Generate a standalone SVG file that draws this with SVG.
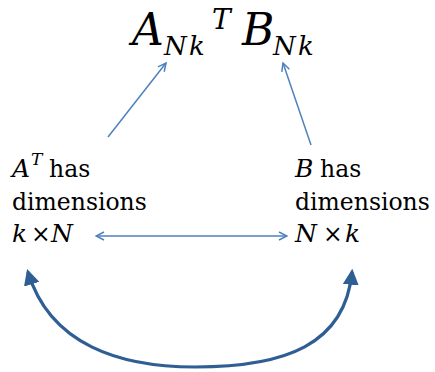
<svg xmlns="http://www.w3.org/2000/svg" width="435" height="372" viewBox="0 0 435 372">
<style>
.m{font-family:'DejaVu Serif','Liberation Serif',serif;font-style:italic;fill:#000}
.t{font-family:'DejaVu Serif','Liberation Serif',serif;font-size:23.5px;fill:#000}
.thin{fill:none;stroke:#4f81bd;stroke-width:1.5}
.thick{fill:none;stroke:#2f5e94;stroke-width:3.2}
</style>
<defs>
<marker id="open" viewBox="0 0 10 10" refX="9" refY="5" markerWidth="10" markerHeight="10" markerUnits="userSpaceOnUse" orient="auto-start-reverse">
<path d="M1,1 L9,5 L1,9" fill="none" stroke="#4f81bd" stroke-width="1.5"/>
</marker>
<marker id="solid" viewBox="0 0 10 10" refX="8" refY="5" markerWidth="5" markerHeight="5" orient="auto">
<path d="M0,0 L10,5 L0,10 Z" fill="#2f5e94"/>
</marker>
</defs>
<g id="title">
<text class="m" x="132" y="45" font-size="44">A</text>
<text class="m" x="164" y="55" font-size="26">N</text>
<text class="m" x="189" y="55" font-size="26">k</text>
<text class="m" x="212" y="29" font-size="28">T</text>
<text class="m" x="242" y="45" font-size="44">B</text>
<text class="m" x="273" y="55" font-size="26">N</text>
<text class="m" x="298" y="55" font-size="26">k</text>
</g>
<g id="left">
<text class="m" x="12" y="177" font-size="25">A</text>
<text class="m" x="31" y="165" font-size="17">T</text>
<text class="t" x="49" y="177">has</text>
<text class="t" x="12" y="210">dimensions</text>
<text class="m" x="12" y="242" font-size="25">k</text>
<text class="t" x="31" y="242">×</text>
<text class="m" x="51" y="242" font-size="25">N</text>
</g>
<g id="right">
<text class="m" x="295" y="177" font-size="25">B</text>
<text class="t" x="320" y="177">has</text>
<text class="t" x="295" y="210">dimensions</text>
<text class="m" x="295" y="242" font-size="25">N</text>
<text class="t" x="323" y="242">×</text>
<text class="m" x="345" y="242" font-size="25">k</text>
</g>
<g id="connectors">
<line class="thin" x1="108" y1="137" x2="166" y2="63" marker-end="url(#open)"/>
<line class="thin" x1="311" y1="145" x2="283" y2="63" marker-end="url(#open)"/>
<line class="thin" x1="96" y1="236" x2="287" y2="236" marker-start="url(#open)" marker-end="url(#open)"/>
<path class="thick" d="M195,367 C285,367 345,345 352,272" marker-end="url(#solid)"/>
<path class="thick" d="M195,367 C120,367 50,345 28,272" marker-end="url(#solid)"/>
</g>
</svg>
